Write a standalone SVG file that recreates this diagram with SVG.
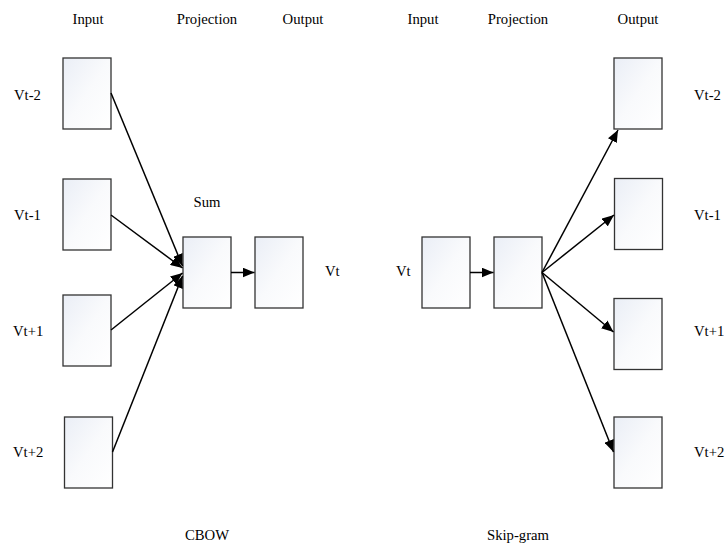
<svg xmlns="http://www.w3.org/2000/svg" width="727" height="544" viewBox="0 0 727 544">
<defs>
<linearGradient id="g" x1="0" y1="0" x2="1" y2="1">
<stop offset="0" stop-color="#eaeef6"/>
<stop offset="0.5" stop-color="#f9fafc"/>
<stop offset="1" stop-color="#ffffff"/>
</linearGradient>
<marker id="ah" viewBox="0 0 12 10" refX="12" refY="5" markerWidth="12" markerHeight="10" markerUnits="userSpaceOnUse" orient="auto">
<path d="M0,0 L12,5 L0,10 Z" fill="#000"/>
</marker>
<style>
.box{fill:url(#g);stroke:#333;stroke-width:1.3}
.c{text-anchor:middle}
.edge{stroke:#000;stroke-width:1.5;fill:none;marker-end:url(#ah)}
</style>
</defs>
<rect width="727" height="544" fill="#fff"/>
<g font-family="Liberation Serif, DejaVu Serif, serif" font-size="14.7" fill="#000">
<!-- headers -->
<text class="c" x="88" y="24">Input</text>
<text class="c" x="207" y="24">Projection</text>
<text class="c" x="303" y="24">Output</text>
<text class="c" x="423" y="24">Input</text>
<text class="c" x="518" y="24">Projection</text>
<text class="c" x="638" y="24">Output</text>
<text class="c" x="207" y="207">Sum</text>
<text class="c" x="207" y="540">CBOW</text>
<text class="c" x="518" y="540">Skip-gram</text>
<!-- CBOW nodes -->
<g id="cbow-in-t-2"><rect class="box" x="63" y="58" width="48" height="71"/><text x="14" y="100">Vt-2</text></g>
<g id="cbow-in-t-1"><rect class="box" x="63" y="179" width="48" height="71"/><text x="14" y="220">Vt-1</text></g>
<g id="cbow-in-t+1"><rect class="box" x="63" y="295" width="48" height="71"/><text x="13" y="336">Vt+1</text></g>
<g id="cbow-in-t+2"><rect class="box" x="64.5" y="417" width="48" height="71"/><text x="13" y="457">Vt+2</text></g>
<g id="cbow-sum"><rect class="box" x="183" y="237" width="48" height="71"/></g>
<g id="cbow-out"><rect class="box" x="255" y="237" width="48" height="71"/><text x="325" y="276">Vt</text></g>
<!-- Skip-gram nodes -->
<g id="sg-in"><rect class="box" x="422" y="237" width="48" height="71"/><text x="396" y="276">Vt</text></g>
<g id="sg-proj"><rect class="box" x="494" y="237" width="48" height="71"/></g>
<g id="sg-out-t-2"><rect class="box" x="614" y="58" width="48" height="71"/><text x="694" y="100">Vt-2</text></g>
<g id="sg-out-t-1"><rect class="box" x="614.5" y="178.5" width="48" height="71"/><text x="694" y="220">Vt-1</text></g>
<g id="sg-out-t+1"><rect class="box" x="614" y="298.5" width="48" height="71"/><text x="694" y="336">Vt+1</text></g>
<g id="sg-out-t+2"><rect class="box" x="614" y="417" width="48" height="71"/><text x="694" y="457">Vt+2</text></g>
</g>
<!-- connectors -->
<g id="connectors">
<line class="edge" x1="111" y1="93" x2="182.5" y2="266"/>
<line class="edge" x1="111" y1="215" x2="182.5" y2="268"/>
<line class="edge" x1="111" y1="330" x2="182.5" y2="273"/>
<line class="edge" x1="112.5" y1="452" x2="182.5" y2="276"/>
<line class="edge" x1="231" y1="272.5" x2="254.5" y2="272.5"/>
<line class="edge" x1="470" y1="272.5" x2="493.5" y2="272.5"/>
<line class="edge" x1="542" y1="272.5" x2="618" y2="130"/>
<line class="edge" x1="542" y1="272.5" x2="614" y2="215"/>
<line class="edge" x1="542" y1="272.5" x2="613.5" y2="332"/>
<line class="edge" x1="542" y1="272.5" x2="613.5" y2="452"/>
</g>
</svg>
